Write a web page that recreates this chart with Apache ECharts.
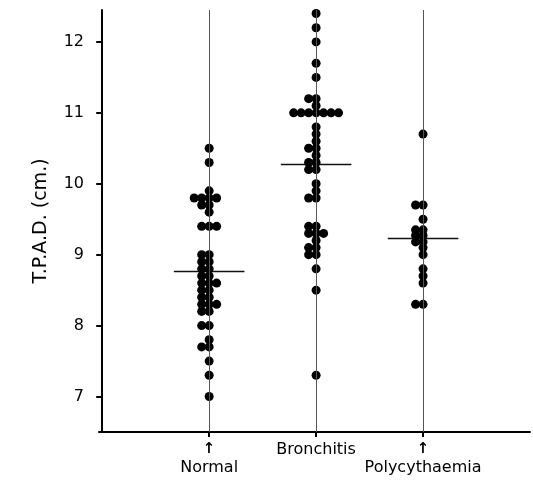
<!DOCTYPE html>
<html>
<head>
<meta charset="utf-8">
<title>T.P.A.D.</title>
<script src="https://cdn.jsdelivr.net/npm/echarts@6/dist/echarts.min.js"></script>
<style>
    html, body { margin: 0; padding: 0; background: #fff; }
    #chart { width: 533px; height: 484px; }
</style>
</head>
<body>
<div id="chart"></div>
<script>
    // 组别
    var categories = ['Normal', 'Bronchitis', 'Polycythaemia'];
    // 带箭头标注的组
    var arrowedGroups = ['Normal', 'Polycythaemia'];

    // 各组测量值 (cm)
    var normalValues = [10.5, 10.3, 9.9, 9.8, 9.8, 9.8, 9.8, 9.7, 9.7, 9.6, 9.4, 9.4, 9.4,
        9.0, 9.0, 8.9, 8.9, 8.8, 8.8, 8.7, 8.7, 8.6, 8.6, 8.6, 8.5, 8.5, 8.4, 8.4,
        8.3, 8.3, 8.3, 8.2, 8.2, 8.0, 8.0, 7.8, 7.7, 7.7, 7.5, 7.3, 7.0];
    var bronchitisValues = [12.4, 12.2, 12.0, 11.7, 11.5, 11.2, 11.2, 11.1,
        11.0, 11.0, 11.0, 11.0, 11.0, 11.0, 11.0, 10.8, 10.7, 10.6, 10.5, 10.5, 10.4,
        10.3, 10.3, 10.2, 10.2, 10.0, 9.9, 9.8, 9.8, 9.4, 9.4, 9.3, 9.3, 9.3, 9.2,
        9.1, 9.1, 9.0, 9.0, 8.8, 8.5, 7.3];
    var polycythaemiaValues = [10.7, 9.7, 9.7, 9.5, 9.35, 9.35, 9.27, 9.27, 9.18, 9.18,
        9.1, 9.0, 8.8, 8.7, 8.6, 8.3, 8.3];

    // 均值横线
    var meanValues = [8.77, 10.27, 9.23];
    // 纵轴刻度
    var yTicks = [7, 8, 9, 10, 11, 12];

    var DOT_STEP = 0.07;     // 点的横向间距(x轴单位)
    var MEAN_HALF = 0.33;    // 均值线半宽

    /** 相同值的点左右排开: 中, 左, 右, 左2, 右2 ... */
    function swarm(values, pos) {
        var seen = {};
        return values.map(function (v) {
            var k = v.toFixed(2);
            var n = seen[k] || 0;
            seen[k] = n + 1;
            var step = Math.ceil(n / 2) * (n % 2 ? -1 : 1);
            return [pos + step * DOT_STEP, v];
        });
    }

    var groups = [normalValues, bronchitisValues, polycythaemiaValues];
    var dots = [];
    groups.forEach(function (vals, i) {
        dots = dots.concat(swarm(vals, i + 1));
    });

    var meanLines = meanValues.map(function (m, i) {
        return {coords: [[i + 1 - MEAN_HALF, m], [i + 1 + MEAN_HALF, m]]};
    });

    var font = 'DejaVu Sans';
    var myChart = echarts.init(document.getElementById('chart'));
    var option = {
        animation: false,
        backgroundColor: '#fff',
        grid: {left: 99, right: 3, top: 10, bottom: 52},
        xAxis: {
            type: 'value',
            min: -0.03,
            max: 4,
            splitLine: {show: false},
            axisLine: {lineStyle: {color: '#000', width: 2}},
            axisTick: {customValues: [1, 2, 3], length: 5, lineStyle: {color: '#000', width: 2}},
            axisLabel: {
                customValues: [1, 2, 3],
                margin: 8,
                formatter: function (val) {
                    var name = categories[Math.round(val) - 1];
                    if (arrowedGroups.indexOf(name) >= 0) {
                        return '{arrow|↑}\n{name|' + name + '}';
                    }
                    return '{name|' + name + '}';
                },
                rich: {
                    arrow: {fontFamily: font, fontSize: 15, lineHeight: 18, color: '#000', fontWeight: 'bold'},
                    name: {fontFamily: font, fontSize: 16, lineHeight: 20, color: '#000'}
                }
            }
        },
        yAxis: {
            type: 'value',
            min: 6.5,
            max: 12.45,
            name: 'T.P.A.D. (cm.)',
            nameLocation: 'middle',
            nameGap: 48,
            nameTextStyle: {fontFamily: font, fontSize: 19, color: '#000'},
            splitLine: {show: false},
            axisLine: {lineStyle: {color: '#000', width: 2}},
            axisTick: {customValues: yTicks, length: 6, lineStyle: {color: '#000', width: 2}},
            axisLabel: {customValues: yTicks, margin: 15, fontFamily: font, fontSize: 16, color: '#000'}
        },
        series: [
            {
                type: 'lines',
                coordinateSystem: 'cartesian2d',
                silent: true,
                z: 2,
                lineStyle: {color: '#111', width: 1.4, opacity: 1},
                data: meanLines,
                markLine: {
                    silent: true,
                    symbol: ['none', 'none'],
                    label: {show: false},
                    lineStyle: {color: '#555', width: 1, type: 'solid'},
                    data: [{xAxis: 1}, {xAxis: 2}, {xAxis: 3}]
                }
            },
            {
                type: 'scatter',
                z: 3,
                symbol: 'circle',
                symbolSize: 9,
                itemStyle: {color: '#000', opacity: 1},
                data: dots
            }
        ]
    };
    myChart.setOption(option);
</script>
</body>
</html>
